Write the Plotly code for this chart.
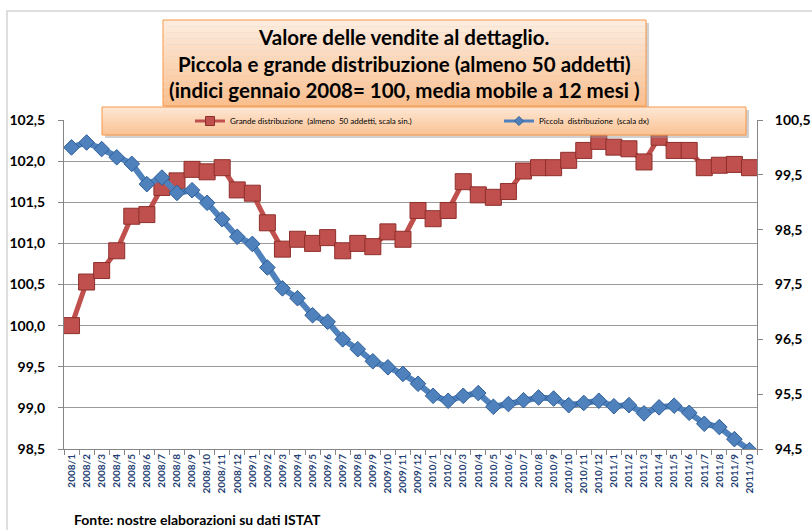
import plotly.graph_objects as go

months = [
    "2008/1","2008/2","2008/3","2008/4","2008/5","2008/6","2008/7","2008/8","2008/9","2008/10","2008/11","2008/12",
    "2009/1","2009/2","2009/3","2009/4","2009/5","2009/6","2009/7","2009/8","2009/9","2009/10","2009/11","2009/12",
    "2010/1","2010/2","2010/3","2010/4","2010/5","2010/6","2010/7","2010/8","2010/9","2010/10","2010/11","2010/12",
    "2011/1","2011/2","2011/3","2011/4","2011/5","2011/6","2011/7","2011/8","2011/9","2011/10",
]

grande = [
    100.00, 100.53, 100.67, 100.91, 101.33, 101.35, 101.68, 101.76, 101.90, 101.87, 101.92, 101.65,
    101.61, 101.25, 100.93, 101.05, 101.00, 101.07, 100.91, 101.00, 100.96, 101.14, 101.05, 101.40,
    101.30, 101.40, 101.75, 101.59, 101.56, 101.63, 101.88, 101.92, 101.92, 102.01, 102.13, 102.24,
    102.17, 102.15, 101.99, 102.29, 102.13, 102.13, 101.92, 101.95, 101.96, 101.92,
]

piccola = [
    100.00, 100.09, 99.97, 99.82, 99.70, 99.33, 99.45, 99.17, 99.22, 98.99, 98.69, 98.37,
    98.24, 97.81, 97.43, 97.25, 96.94, 96.82, 96.50, 96.32, 96.10, 95.99, 95.87, 95.69,
    95.47, 95.38, 95.47, 95.52, 95.27, 95.32, 95.39, 95.44, 95.42, 95.30, 95.34, 95.38,
    95.28, 95.30, 95.15, 95.26, 95.29, 95.16, 94.96, 94.90, 94.68, 94.48,
]

left_ticks = [98.5, 99.0, 99.5, 100.0, 100.5, 101.0, 101.5, 102.0, 102.5]
right_ticks = [94.5, 95.5, 96.5, 97.5, 98.5, 99.5, 100.5]

title_lines = [
    "Valore delle vendite al dettaglio.",
    "Piccola e grande distribuzione (almeno 50 addetti)",
    "(indici gennaio 2008= 100, media mobile a 12 mesi )",
]
name_grande = "Grande distribuzione  (almeno  50 addetti, scala sin.)"
name_piccola = "Piccola  distribuzione  (scala dx)"
source_text = "Fonte: nostre elaborazioni su dati ISTAT"

W, H = 812, 530
L, R, T, B = 64, 757, 120, 449
FONT = "Lato"
RED = "#C0504D"
BLUE = "#4F81BD"


def px(x):
    return (x - L) / (R - L)


def py(y):
    return (B - y) / (B - T)


fig = go.Figure()

fig.add_trace(go.Scatter(
    x=months, y=grande, mode="lines+markers", yaxis="y", showlegend=False,
    line=dict(color=RED, width=5),
    marker=dict(symbol="square", size=16, color=RED, line=dict(color="#8E2F2C", width=1)),
))
fig.add_trace(go.Scatter(
    x=months, y=piccola, mode="lines+markers", yaxis="y2", showlegend=False,
    line=dict(color=BLUE, width=6),
    marker=dict(symbol="diamond", size=12, color=BLUE, line=dict(color="#2F5F97", width=1)),
))
# legend entries
fig.add_trace(go.Scatter(
    x=[None], y=[None], mode="lines+markers", name=name_grande, yaxis="y", legend="legend",
    line=dict(color=RED, width=3),
    marker=dict(symbol="square", size=9, color=RED, line=dict(color="#8E2F2C", width=1)),
))
fig.add_trace(go.Scatter(
    x=[None], y=[None], mode="lines+markers", name=name_piccola, yaxis="y2", legend="legend2",
    line=dict(color=BLUE, width=3),
    marker=dict(symbol="diamond", size=7, color=BLUE, line=dict(color="#2F5F97", width=1)),
))

shapes = []
# outer chart frame
shapes.append(dict(type="rect", xref="paper", yref="paper",
                   x0=px(7), x1=px(830), y0=py(11), y1=py(560),
                   line=dict(color="#D4D4D4", width=1.5), fillcolor="rgba(0,0,0,0)", layer="below"))


def grad_box(x0, x1, y0, y1, top, bot, n=14):
    shapes.append(dict(type="rect", xref="paper", yref="paper",
                       x0=px(x0 + 3), x1=px(x1 + 3), y0=py(y0 + 3), y1=py(y1 + 3),
                       line=dict(width=0), fillcolor="rgba(150,150,150,0.45)", layer="above"))
    for i in range(n):
        f = i / (n - 1)
        c = tuple(int(round(top[k] + (bot[k] - top[k]) * f)) for k in range(3))
        ya = y0 + (y1 - y0) * i / n
        yb = y0 + (y1 - y0) * (i + 1) / n
        shapes.append(dict(type="rect", xref="paper", yref="paper",
                           x0=px(x0), x1=px(x1), y0=py(ya), y1=py(yb),
                           line=dict(width=0), fillcolor="rgb(%d,%d,%d)" % c, layer="above"))
    shapes.append(dict(type="rect", xref="paper", yref="paper",
                       x0=px(x0), x1=px(x1), y0=py(y0), y1=py(y1),
                       line=dict(color="#F79646", width=1), fillcolor="rgba(0,0,0,0)", layer="above"))


grad_box(163, 646, 20, 106, (253, 236, 222), (250, 192, 144))
grad_box(102, 746, 107, 135, (253, 230, 210), (250, 195, 150))

legend_common = dict(
    orientation="h", xanchor="left", yanchor="middle",
    bgcolor="rgba(0,0,0,0)", borderwidth=0,
    font=dict(family=FONT, size=8, color="black"),
)

fig.update_layout(
    width=W, height=H, autosize=False,
    margin=dict(l=L, r=W - R, t=T, b=H - B, pad=0, autoexpand=False),
    paper_bgcolor="white", plot_bgcolor="white",
    separators=",.",
    font=dict(family=FONT, color="black"),
    shapes=shapes,
    xaxis=dict(
        type="category", range=[-0.5, len(months) - 0.5],
        showgrid=False, showline=True, linecolor="#868686", linewidth=1,
        ticks="outside", tickson="boundaries", ticklen=5, tickcolor="#868686",
        tickangle=-90, tickfont=dict(family=FONT, size=10, color="#1F3F74", weight="bold"),
    ),
    yaxis=dict(
        range=[98.5, 102.5], tickvals=left_ticks, tickformat=".1f",
        showgrid=True, gridcolor="#9A9A9A", gridwidth=1,
        showline=True, linecolor="#868686", linewidth=1,
        ticks="outside", ticklen=5, tickcolor="#868686",
        ticklabelstandoff=10,
        tickfont=dict(family=FONT, size=14, color="black", weight="bold"),
        zeroline=False,
    ),
    yaxis2=dict(
        range=[94.5, 100.5], tickvals=right_ticks, tickformat=".1f",
        overlaying="y", side="right", showgrid=False,
        showline=True, linecolor="#868686", linewidth=1,
        ticks="outside", ticklen=5, tickcolor="#868686",
        ticklabelstandoff=9,
        tickfont=dict(family=FONT, size=14, color="black", weight="bold"),
        zeroline=False,
    ),
    legend=dict(x=px(190), y=py(121), **legend_common),
    legend2=dict(x=px(499), y=py(121), **legend_common),
    annotations=[
        dict(text="<br>".join("<b>%s</b>" % t for t in title_lines),
             xref="paper", yref="paper", x=px(404.5), y=py(64), xanchor="center", yanchor="middle",
             showarrow=False, font=dict(family=FONT, size=20.5, color="black")),
        dict(text="<b>%s</b>" % source_text,
             xref="paper", yref="paper", x=px(72), y=py(519), xanchor="left", yanchor="middle",
             showarrow=False, font=dict(family=FONT, size=14, color="black")),
    ],
)

fig.write_html(
    "out.html",
    config={"displayModeBar": False},
    post_script="document.body.style.margin='0';document.body.style.overflow='hidden';",
)
